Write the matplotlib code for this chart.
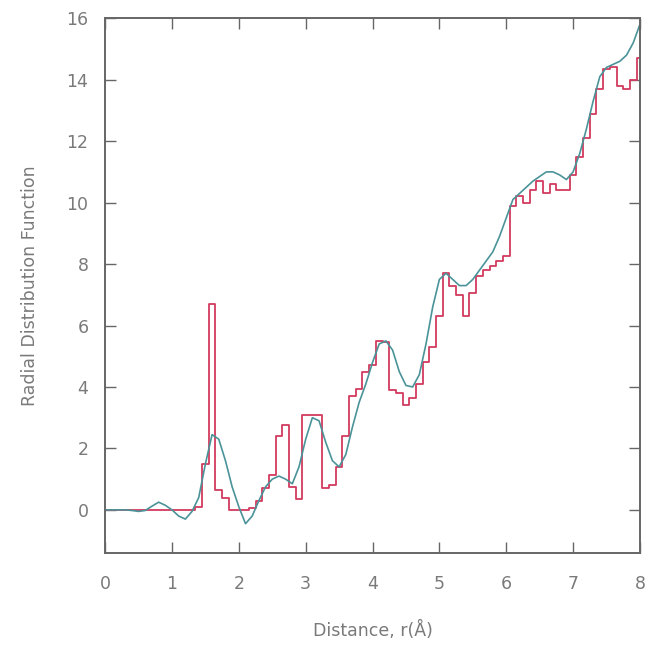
"""Radial distribution function: binned histogram vs smooth curve."""

import numpy as np
import matplotlib

matplotlib.use("Agg")
import matplotlib.pyplot as plt

# histogram bins, centred on 0.0, 0.1, ..., 8.0 Angstrom
hist_r = np.round(np.arange(0, 81) * 0.1, 1)
hist_g = [
    0, 0, 0, 0, 0, 0, 0, 0, 0, 0,                  # 0.0 - 0.9
    0, 0, 0, 0, 0.1, 1.5, 6.7, 0.65, 0.4, 0,       # 1.0 - 1.9
    0, 0, 0.05, 0.3, 0.7, 1.15, 2.4, 2.75, 0.75, 0.35,  # 2.0 - 2.9
    3.1, 3.1, 3.1, 0.7, 0.8, 1.4, 2.4, 3.7, 3.95, 4.5,  # 3.0 - 3.9
    4.7, 5.5, 5.45, 3.9, 3.8, 3.4, 3.65, 4.1, 4.8, 5.3,  # 4.0 - 4.9
    6.3, 7.7, 7.3, 7.0, 6.3, 7.05, 7.6, 7.8, 7.95, 8.1,  # 5.0 - 5.9
    8.25, 9.9, 10.2, 10.0, 10.4, 10.7, 10.3, 10.6, 10.4, 10.4,  # 6.0 - 6.9
    10.9, 11.5, 12.1, 12.9, 13.7, 14.35, 14.4, 13.8, 13.7, 14.0,  # 7.0 - 7.9
    14.7,                                           # 8.0
]

# smooth RDF curve, sampled every 0.1 Angstrom
curve_r = np.round(np.arange(0, 81) * 0.1, 1)
curve_g = [
    0, 0, 0, 0, -0.02, -0.05, -0.02, 0.12, 0.25, 0.15,
    0.0, -0.2, -0.3, -0.05, 0.4, 1.5, 2.45, 2.3, 1.6, 0.75,
    0.1, -0.45, -0.2, 0.3, 0.75, 1.0, 1.1, 1.0, 0.85, 1.4,
    2.3, 3.0, 2.9, 2.2, 1.6, 1.4, 1.8, 2.7, 3.5, 4.1,
    4.8, 5.4, 5.5, 5.2, 4.5, 4.05, 4.0, 4.4, 5.4, 6.6,
    7.5, 7.7, 7.5, 7.3, 7.3, 7.5, 7.8, 8.1, 8.4, 8.9,
    9.5, 10.1, 10.3, 10.5, 10.7, 10.85, 11.0, 11.0, 10.9, 10.75,
    11.0, 11.6, 12.4, 13.3, 14.1, 14.4, 14.5, 14.6, 14.8, 15.2,
    15.8,
]

x_ticks = list(range(0, 9))
y_ticks = list(range(0, 17, 2))

grey = "#7a7a7a"
plt.rcParams["font.family"] = "DejaVu Sans"

fig = plt.figure(figsize=(6.49, 6.52), dpi=100)
ax = fig.add_axes([0.162, 0.152, 0.824, 0.820])

ax.step(hist_r, hist_g, where="mid", color="#d23a5e", lw=1.3)
ax.plot(curve_r, curve_g, color="#4a9399", lw=1.2)

ax.set_xlim(0, 8)
ax.set_ylim(-1.4, 16)
ax.set_xticks(x_ticks)
ax.set_yticks(y_ticks)
ax.tick_params(direction="in", length=8, width=1, color="#666666", labelcolor=grey,
               labelsize=12.5, top=True, right=True)
ax.tick_params(axis="x", pad=16)
ax.tick_params(axis="y", pad=12)
for sp in ax.spines.values():
    sp.set_color("#666666")
    sp.set_linewidth(1.4)

ax.set_xlabel("Distance, r(Å)", color=grey, fontsize=12.5, labelpad=20)
ax.set_ylabel("Radial Distribution Function", color=grey, fontsize=12.5, labelpad=20)

fig.savefig("out.png", dpi=100)
plt.close(fig)
